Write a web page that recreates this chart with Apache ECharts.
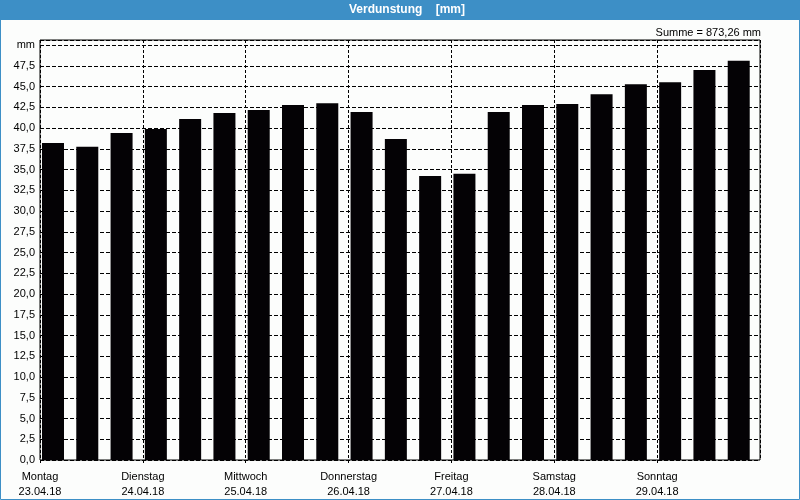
<!DOCTYPE html>
<html>
<head>
<meta charset="utf-8">
<script src="https://cdn.jsdelivr.net/npm/echarts@6/dist/echarts.min.js"></script>
<style>
html,body{margin:0;padding:0;background:#fcfdfc;}
#c{width:800px;height:500px;}
</style>
</head>
<body>
<div id="c"></div>
<script>
var dayNames = ['Montag','Dienstag','Mittwoch','Donnerstag','Freitag','Samstag','Sonntag'];
var dayDates = ['23.04.18','24.04.18','25.04.18','26.04.18','27.04.18','28.04.18','29.04.18'];
var barLabels = ['Mo 1','Mo 2','Mo 3','Di 1','Di 2','Di 3','Mi 1','Mi 2','Mi 3','Do 1','Do 2','Do 3','Fr 1','Fr 2','Fr 3','Sa 1','Sa 2','Sa 3','So 1','So 2','So 3'];
var values = [38.20, 37.75, 39.42, 39.90, 41.10, 41.82, 42.18, 42.78, 43.02, 41.94, 38.70, 34.25, 34.50, 41.94, 42.78, 42.90, 44.10, 45.31, 45.55, 47.00, 48.12];

var sum = values.reduce(function(a,b){return a+b;},0);
var FONT = 'Liberation Sans';
var yMax = 50.63;

var chart = echarts.init(document.getElementById('c'), null, {renderer:'canvas'});
chart.setOption({
  animation:false,
  backgroundColor:'#fcfdfc',
  grid:[
    {left:40, right:40, top:40, bottom:40, show:true, borderColor:'#000', borderWidth:1, backgroundColor:'transparent', z:1},
    {left:35.86, right:44.14, top:40, bottom:40, show:false}
  ],
  xAxis:[
    {type:'value', gridIndex:0, min:0, max:7, interval:1,
     axisLine:{show:false}, axisTick:{show:true, length:3, lineStyle:{color:'#000'}},
     splitLine:{show:true, lineStyle:{color:'#000', type:[3,2], width:1}},
     axisLabel:{showMaxLabel:false, margin:9, color:'#000', fontFamily:FONT, fontSize:11, lineHeight:15,
       formatter:function(v){var i=Math.round(v); return (dayNames[i]||'')+'\n'+(dayDates[i]||'');}}
    },
    {type:'category', gridIndex:1, data:barLabels, show:false, boundaryGap:true}
  ],
  yAxis:[
    {type:'value', gridIndex:0, min:0, max:yMax, interval:2.5,
     axisLine:{show:false}, axisTick:{show:false},
     splitLine:{show:true, lineStyle:{color:'#000', type:[4,2], width:1}},
     axisLabel:{showMaxLabel:false, margin:5, color:'#000', fontFamily:FONT, fontSize:11,
       formatter:function(v){ if (Math.abs(v-50)<1e-6) return 'mm'; return v.toFixed(1).replace('.',','); }}
    },
    {type:'value', gridIndex:1, min:0, max:yMax, show:false, splitLine:{show:false}}
  ],
  series:[
    {type:'bar', xAxisIndex:1, yAxisIndex:1, data:values, barWidth:22,
     itemStyle:{color:'#040205'}, z:3, silent:true}
  ],
  graphic:[
    {type:'rect', left:0, top:0, shape:{x:0,y:0,width:800,height:20}, style:{fill:'#3d8fc6'}, z:10},
    {type:'text', x:407, y:10, style:{text:'Verdunstung    [mm]', fill:'#fff', font:'bold 12px '+FONT, align:'center', verticalAlign:'middle'}, z:11},
    {type:'rect', shape:{x:0.5,y:0.5,width:799,height:499}, style:{fill:null, stroke:'#3d8fc6', lineWidth:1}, z:10},
    {type:'text', x:761, y:33, style:{text:'Summe = '+sum.toFixed(2).replace('.',',')+' mm', fill:'#000', font:'11px '+FONT, align:'right', verticalAlign:'middle'}, z:11}
  ]
});
</script>
</body>
</html>
